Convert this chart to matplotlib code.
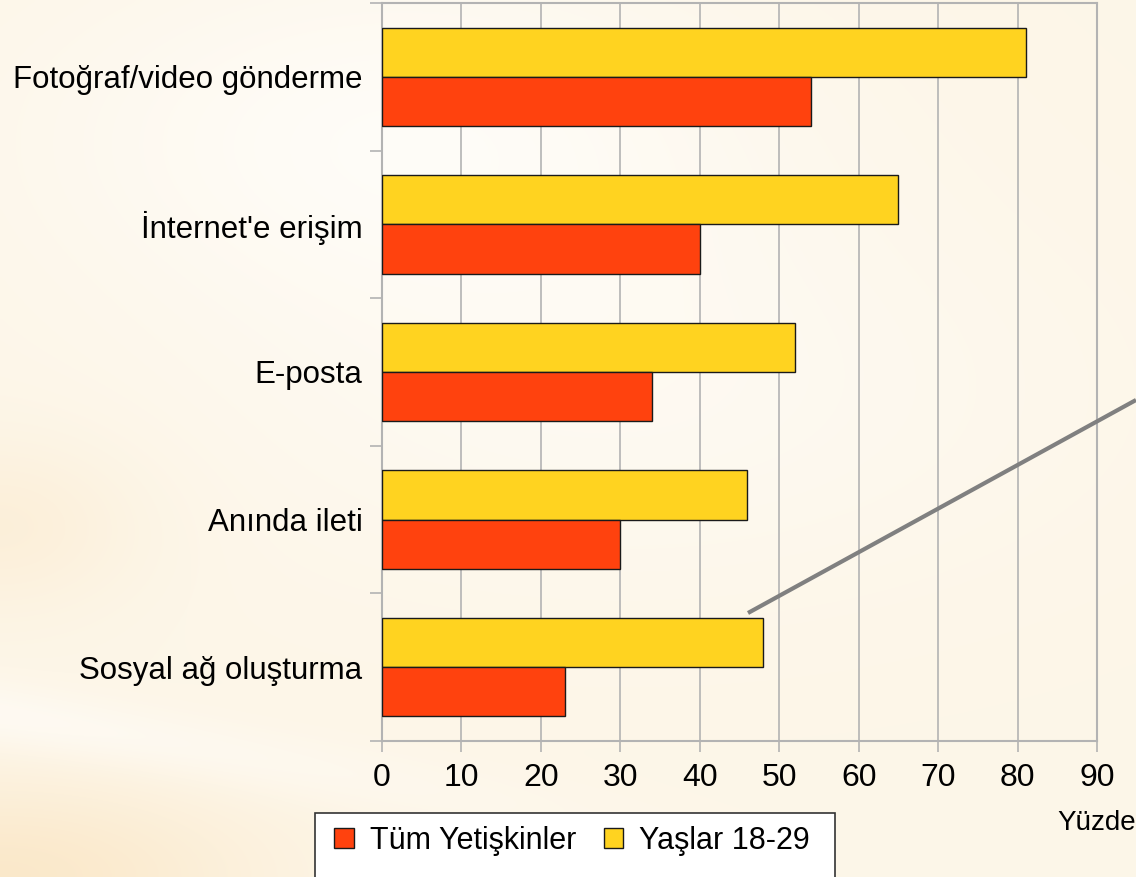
import numpy as np
import matplotlib
matplotlib.use("Agg")
import matplotlib.pyplot as plt
from matplotlib.patches import Rectangle
from matplotlib.lines import Line2D

categories = ["Fotoğraf/video gönderme", "İnternet'e erişim", "E-posta", "Anında ileti", "Sosyal ağ oluşturma"]
all_adults = [54, 40, 34, 30, 23]
ages_18_29 = [81, 65, 52, 46, 48]
series_names = ["Tüm Yetişkinler", "Yaşlar 18-29"]
x_ticks = [0, 10, 20, 30, 40, 50, 60, 70, 80, 90]
x_label = "Yüzde"

plt.rcParams['font.family'] = ['Liberation Sans', 'DejaVu Sans']

W, H = 1136, 877
fig = plt.figure(figsize=(W / 100, H / 100), dpi=100)

# background gradient
bg = fig.add_axes([0, 0, 1, 1], zorder=-10)
yy, xx = np.mgrid[0:1:300j, 0:1:400j]
base = np.array([0.992, 0.965, 0.910])
white = np.array([1.0, 0.993, 0.980])
orange = np.array([0.980, 0.890, 0.745])
w_white = 0.8 * np.exp(-((xx - 0.35) ** 2 / 0.10 + (yy - 0.15) ** 2 / 0.04))
w_white += 0.5 * np.exp(-((xx - 0.55) ** 2 / 0.15 + (yy - 0.45) ** 2 / 0.05))
w_white += 0.7 * np.exp(-((yy - (0.82 + 0.22 * xx)) ** 2) / 0.0015) * np.exp(-xx ** 2 / 0.15)
w_white = np.clip(w_white, 0, 1)
w_or = 0.7 * np.exp(-(xx ** 2 / 0.05 + (yy - 1.0) ** 2 / 0.012))
w_or += 0.35 * np.exp(-(xx ** 2 / 0.015 + (yy - 0.60) ** 2 / 0.01))
w_or = np.clip(w_or, 0, 1)
img = base[None, None, :] * (1 - w_white[..., None]) + white[None, None, :] * w_white[..., None]
img = img * (1 - w_or[..., None]) + orange[None, None, :] * w_or[..., None]
bg.imshow(img, aspect='auto', extent=[0, 1, 1, 0], interpolation='bicubic')
bg.set_axis_off()

ax_l, ax_r, ax_t, ax_b = 382, 1097, 3, 741
ax = fig.add_axes([ax_l / W, 1 - ax_b / H, (ax_r - ax_l) / W, (ax_b - ax_t) / H])
ax.patch.set_alpha(0)

y = np.arange(len(categories))
h = 1 / 3
ax.barh(y - h / 2, ages_18_29, height=h, color='#ffd320', edgecolor='#1a1a1a', linewidth=1.0, zorder=3, label=series_names[1])
ax.barh(y + h / 2, all_adults, height=h, color='#ff420e', edgecolor='#1a1a1a', linewidth=1.0, zorder=3, label=series_names[0])

ax.set_xlim(0, 90)
ax.set_ylim(len(categories) - 0.5, -0.5)
ax.set_xticks(x_ticks)
ax.set_xticklabels([str(v) for v in x_ticks], fontsize=23)
ax.set_yticks(y)
ax.set_yticklabels(categories, fontsize=22.5)
ax.set_yticks(np.arange(len(categories) + 1) - 0.5, minor=True)
ax.tick_params(axis='y', which='major', length=0, pad=14)
ax.tick_params(axis='y', which='minor', length=8.6, width=1.2, color='#b3b3b3')
ax.tick_params(axis='x', which='major', length=8, width=1.2, color='#b3b3b3', pad=8)
ax.grid(axis='x', color='#b3b3b3', linewidth=1.2, zorder=0)
ax.set_axisbelow(True)
for s in ax.spines.values():
    s.set_color('#b3b3b3')
    s.set_linewidth(1.5)

fig.text(1057 / W, 1 - 830 / H, x_label, fontsize=20, ha='left', va='baseline')

# decorative pointer line
fig.add_artist(Line2D([748 / W, 1136 / W], [1 - 613 / H, 1 - 400 / H], transform=fig.transFigure,
                      color='#808080', linewidth=3, solid_capstyle='butt', zorder=5))

# legend box
fig.add_artist(Rectangle((315 / W, -0.05), (835 - 315) / W, 1 - 813 / H + 0.05, transform=fig.transFigure,
                         facecolor='white', edgecolor='#333333', linewidth=1.2, zorder=4))
handles, labels = ax.get_legend_handles_labels()
order = [1, 0]
leg = fig.legend([handles[i] for i in order], [labels[i] for i in order], loc='center left',
                 bbox_to_anchor=(334 / W, 1 - 841 / H), ncol=2, frameon=False, fontsize=22,
                 handlelength=0.65, handleheight=0.65, handletextpad=0.52, columnspacing=0.9,
                 borderpad=0.0, borderaxespad=0)
leg.set_zorder(6)

fig.savefig("out.png", dpi=100)
